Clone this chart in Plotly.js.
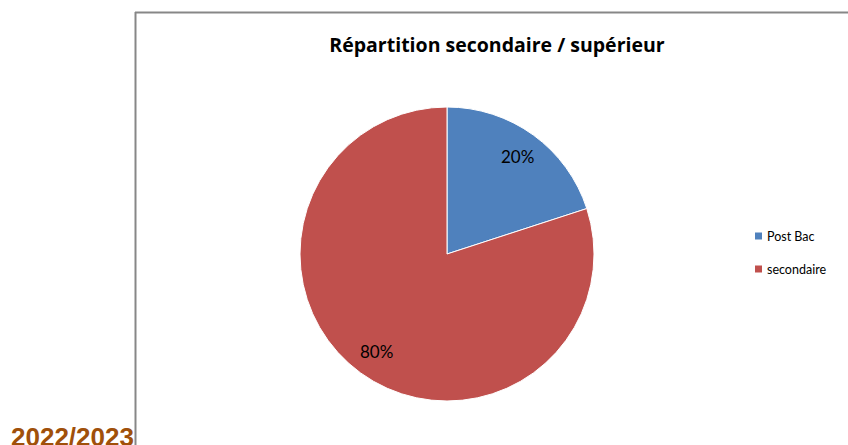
<!DOCTYPE html>
<html><head><meta charset="utf-8">
<script src="https://cdn.plot.ly/plotly-3.0.1.min.js"></script>
<style>html,body{margin:0;padding:0;background:#fff;}#c{width:848px;height:445px;}</style>
</head><body><div id="c"></div>
<script>
const labels = ["Post Bac", "secondaire"];
const values = [20, 80];
const colors = ["#4F81BD", "#C0504D"];
const W = 848, H = 445;
const px = (x) => x / W, py = (y) => 1 - y / H;

// pie geometry (pixels)
const cx = 447, cy = 254, r = 147;
const total = values.reduce((a, b) => a + b, 0);
const ann = [];
let acc = 0;
values.forEach((v, i) => {
  const mid = (acc + v / 2) / total * 2 * Math.PI;
  acc += v;
  const d = 0.82 * r;
  ann.push({
    xref: 'paper', yref: 'paper',
    x: px(cx + d * Math.sin(mid)), y: py(cy - d * Math.cos(mid)),
    text: Math.round(v / total * 100) + '%', showarrow: false,
    font: {family: 'Lato, Open Sans, sans-serif', size: 17, color: '#000'},
    xanchor: 'center', yanchor: 'middle'
  });
});
// legend
const shapes = [];
labels.forEach((l, i) => {
  const ly = 236 + i * 33;
  shapes.push({type: 'rect', xref: 'paper', yref: 'paper',
    x0: px(755), x1: px(762), y0: py(ly + 3.5), y1: py(ly - 3.5),
    fillcolor: colors[i], line: {width: 0}});
  ann.push({xref: 'paper', yref: 'paper', x: px(765), y: py(ly), text: l,
    showarrow: false, xanchor: 'left', yanchor: 'middle',
    font: {family: 'Lato, Open Sans, sans-serif', size: 12.5, color: '#000'}});
});
// frame
shapes.push({type: 'line', xref: 'paper', yref: 'paper', x0: px(135.5), x1: px(135.5), y0: py(460), y1: py(12),
  line: {color: '#878787', width: 2}});
shapes.push({type: 'line', xref: 'paper', yref: 'paper', x0: px(135), x1: px(860), y0: py(12.5), y1: py(12.5),
  line: {color: '#878787', width: 2}});
// year text
ann.push({xref: 'paper', yref: 'paper', x: px(9), y: py(437), text: '<b>2022/2023</b>', showarrow: false,
  xanchor: 'left', yanchor: 'middle',
  font: {family: 'Liberation Sans, Arial, sans-serif', size: 26, color: '#A0500A'}});

const data = [{
  type: 'pie', labels: labels, values: values, sort: false, direction: 'clockwise', rotation: 0,
  marker: {colors: colors, line: {color: '#fff', width: 1}},
  textinfo: 'none', hoverinfo: 'label+percent', showlegend: false,
  domain: {x: [px(cx - r), px(cx + r)], y: [py(cy + r), py(cy - r)]}
}];
const layout = {
  width: W, height: H, margin: {l: 0, r: 0, t: 0, b: 0},
  paper_bgcolor: '#fff', showlegend: false,
  title: {text: '<b>Répartition secondaire / supérieur</b>', x: px(497), xanchor: 'center',
    y: py(45), yref: 'container', yanchor: 'middle',
    font: {family: 'Open Sans, sans-serif', size: 19.5, color: '#000'}},
  annotations: ann, shapes: shapes
};
Plotly.newPlot('c', data, layout, {displayModeBar: false, staticPlot: true});
</script></body></html>
